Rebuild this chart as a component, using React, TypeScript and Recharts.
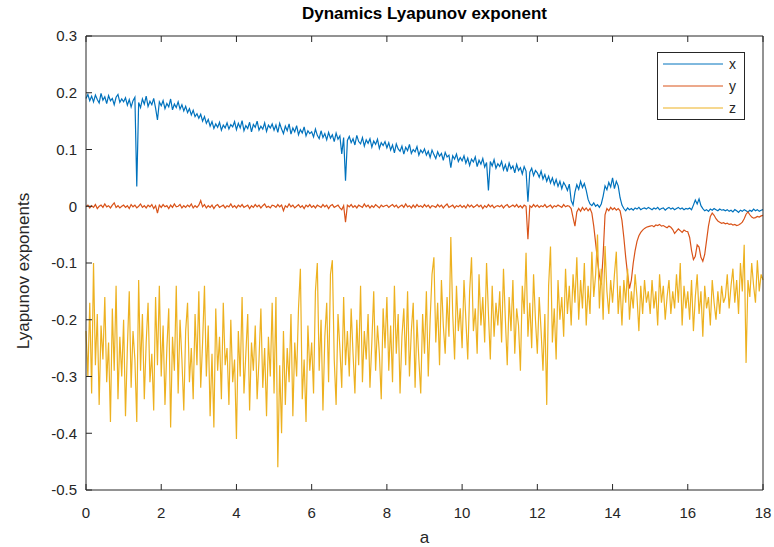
import React from 'react';
import { LineChart, Line, XAxis, YAxis, Legend } from 'recharts';

const FONT = '"Liberation Sans", Arial, Helvetica, sans-serif';
const INK = '#262626';

// parameter a sampled every 0.05 from 0 to 18
const A_STEP = 0.05;

// Lyapunov exponent for x (blue)
const LYAP_X = [
  0.190, 0.197, 0.186, 0.194, 0.184, 0.196, 0.188, 0.182, 0.199, 0.187, 0.193, 0.181, 0.195, 0.186, 0.190, 0.179, 0.192, 0.197, 0.183, 0.189,
  0.184, 0.191, 0.178, 0.188, 0.175, 0.186, 0.192, 0.035, 0.183, 0.174, 0.189, 0.180, 0.194, 0.176, 0.185, 0.179, 0.190, 0.173, 0.152, 0.184,
  0.177, 0.186, 0.172, 0.181, 0.175, 0.189, 0.170, 0.180, 0.174, 0.184, 0.171, 0.179, 0.168, 0.176, 0.165, 0.172, 0.161, 0.169, 0.158, 0.163,
  0.155, 0.162, 0.150, 0.158, 0.146, 0.153, 0.141, 0.149, 0.137, 0.145, 0.139, 0.148, 0.134, 0.143, 0.138, 0.147, 0.136, 0.144, 0.140, 0.149,
  0.135, 0.146, 0.138, 0.151, 0.133, 0.142, 0.137, 0.148, 0.131, 0.144, 0.139, 0.150, 0.134, 0.141, 0.136, 0.147, 0.132, 0.143, 0.138, 0.145,
  0.134, 0.143, 0.130, 0.146, 0.136, 0.128, 0.141, 0.133, 0.145, 0.127, 0.138, 0.131, 0.142, 0.126, 0.135, 0.129, 0.140, 0.124, 0.133, 0.128,
  0.131, 0.122, 0.136, 0.125, 0.119, 0.133, 0.121, 0.128, 0.117, 0.130, 0.120, 0.126, 0.114, 0.129, 0.118, 0.124, 0.092, 0.121, 0.045, 0.116,
  0.123, 0.112, 0.119, 0.108, 0.125, 0.114, 0.110, 0.121, 0.106, 0.117, 0.111, 0.119, 0.104, 0.115, 0.109, 0.118, 0.102, 0.112, 0.107, 0.114,
  0.103, 0.112, 0.099, 0.108, 0.094, 0.110, 0.101, 0.097, 0.106, 0.092, 0.104, 0.098, 0.109, 0.093, 0.100, 0.096, 0.105, 0.090, 0.099, 0.094,
  0.101, 0.090, 0.097, 0.086, 0.099, 0.091, 0.084, 0.096, 0.088, 0.093, 0.081, 0.095, 0.087, 0.090, 0.068, 0.089, 0.083, 0.092, 0.079, 0.086,
  0.080, 0.089, 0.076, 0.085, 0.072, 0.083, 0.078, 0.087, 0.070, 0.081, 0.074, 0.084, 0.069, 0.077, 0.028, 0.079, 0.071, 0.082, 0.067, 0.075,
  0.070, 0.079, 0.064, 0.073, 0.061, 0.076, 0.066, 0.071, 0.059, 0.074, 0.063, 0.068, 0.057, 0.070, 0.062, 0.008, 0.060, 0.067, 0.054, 0.063,
  0.059, 0.051, 0.062, 0.048, 0.056, 0.044, 0.053, 0.041, 0.050, 0.038, 0.047, 0.035, 0.044, 0.031, 0.042, 0.036, 0.028, 0.039, 0.010, 0.002,
  0.025, 0.038, 0.030, 0.044, 0.033, 0.040, 0.028, 0.012, 0.004, 0.001, 0.006, 0.000, 0.003, -0.002, 0.004, 0.018, 0.036, 0.029, 0.042, 0.034,
  0.050, 0.031, 0.044, 0.036, 0.015, 0.002, -0.004, -0.008, -0.003, -0.006, -0.004, -0.007, -0.003, -0.005, -0.002, -0.006, -0.004, -0.003, -0.005, -0.002,
  -0.004, -0.006, -0.003, -0.005, -0.002, -0.006, -0.004, -0.003, -0.007, -0.004, -0.002, -0.005, -0.003, -0.006, -0.004, -0.002, -0.005, -0.003, -0.006, -0.004,
  -0.005, -0.003, -0.006, 0.002, 0.011, 0.004, 0.013, 0.001, -0.004, -0.008, -0.006, -0.009, -0.005, -0.007, -0.004, -0.006, -0.008, -0.005, -0.007, -0.006,
  -0.008, -0.006, -0.009, -0.007, -0.010, -0.006, -0.008, -0.011, -0.007, -0.009, -0.006, -0.008, -0.010, -0.007, -0.009, -0.005, -0.008, -0.006, -0.009, -0.007,
  -0.006,
];

// Lyapunov exponent for y (orange)
const LYAP_Y = [
  -0.001, 0.002, -0.003, 0.001, -0.002, 0.003, -0.004, 0.000, 0.002, -0.002, 0.004, -0.001, 0.001, -0.003, 0.002, 0.006, -0.002, 0.001, -0.003, 0.000,
  0.002, -0.002, 0.001, -0.004, 0.003, -0.001, 0.002, -0.003, 0.000, 0.004, -0.002, 0.001, -0.003, 0.002, -0.001, 0.003, -0.004, 0.001, -0.012, 0.002,
  -0.002, 0.003, -0.001, 0.001, -0.004, 0.002, -0.002, 0.004, -0.001, 0.000, 0.003, -0.003, 0.001, -0.002, 0.002, -0.001, 0.004, -0.003, 0.001, -0.002,
  0.002, 0.010, -0.001, 0.003, -0.003, 0.001, -0.002, 0.002, -0.004, 0.001, 0.003, -0.002, 0.000, 0.002, -0.003, 0.001, -0.001, 0.004, -0.002, 0.001,
  -0.003, 0.002, -0.001, 0.003, -0.002, 0.000, 0.002, -0.004, 0.001, -0.002, 0.003, -0.001, 0.002, -0.003, 0.001, 0.004, -0.002, 0.000, -0.003, 0.002,
  0.001, -0.002, 0.003, -0.001, 0.002, -0.008, 0.001, -0.002, 0.004, -0.001, 0.002, -0.003, 0.000, 0.003, -0.002, 0.001, -0.004, 0.002, -0.001, 0.003,
  -0.002, 0.001, -0.003, 0.002, 0.000, -0.002, 0.003, -0.001, 0.002, -0.004, 0.001, 0.003, -0.002, 0.000, 0.002, -0.003, -0.006, 0.001, -0.028, 0.002,
  -0.001, 0.003, -0.002, 0.001, -0.003, 0.002, 0.000, -0.002, 0.004, -0.001, 0.002, -0.003, 0.001, -0.002, 0.003, 0.000, -0.003, 0.002, -0.001, 0.001,
  0.002, -0.002, 0.001, 0.003, -0.001, 0.002, -0.003, 0.000, 0.002, -0.002, 0.004, -0.001, 0.001, -0.003, 0.002, -0.002, 0.003, -0.001, 0.001, -0.002,
  0.003, -0.001, 0.002, -0.003, 0.001, 0.000, -0.002, 0.003, -0.001, 0.002, -0.003, 0.001, 0.004, -0.002, 0.000, 0.002, -0.003, 0.001, -0.001, 0.002,
  -0.002, 0.001, -0.003, 0.003, -0.001, 0.002, -0.002, 0.000, 0.003, -0.001, 0.002, -0.004, 0.001, -0.002, 0.003, -0.001, 0.002, -0.003, 0.000, 0.001,
  -0.001, 0.002, -0.003, 0.001, 0.003, -0.002, 0.000, 0.002, -0.001, 0.003, -0.002, 0.001, -0.003, 0.002, 0.000, -0.058, 0.001, -0.002, 0.003, -0.001,
  0.002, -0.002, 0.001, -0.001, 0.003, -0.002, 0.000, 0.002, -0.003, 0.001, -0.001, 0.002, 0.000, -0.002, 0.003, -0.001, 0.001, 0.000, -0.004, -0.020,
  -0.035, -0.010, -0.004, -0.009, -0.002, -0.007, -0.003, -0.008, -0.004, -0.012, -0.035, -0.065, -0.095, -0.122, -0.138, -0.085, -0.015, -0.004, -0.008, -0.002,
  -0.006, -0.003, -0.007, -0.004, -0.008, -0.025, -0.055, -0.090, -0.120, -0.145, -0.130, -0.100, -0.078, -0.062, -0.052, -0.046, -0.042, -0.039, -0.037, -0.036,
  -0.035, -0.034, -0.036, -0.033, -0.034, -0.032, -0.035, -0.034, -0.036, -0.038, -0.035, -0.037, -0.041, -0.048, -0.044, -0.040, -0.043, -0.046, -0.042, -0.044,
  -0.045, -0.055, -0.078, -0.094, -0.088, -0.068, -0.072, -0.090, -0.097, -0.085, -0.060, -0.035, -0.018, -0.012, -0.016, -0.022, -0.026, -0.028, -0.030, -0.029,
  -0.031, -0.030, -0.032, -0.031, -0.033, -0.032, -0.034, -0.033, -0.031, -0.028, -0.022, -0.014, -0.010, -0.015, -0.019, -0.021, -0.020, -0.018, -0.019, -0.017,
  -0.016,
];

// Lyapunov exponent for z (yellow)
const LYAP_Z = [
  -0.22, -0.30, -0.17, -0.33, -0.10, -0.28, -0.19, -0.35, -0.21, -0.27, -0.16, -0.31, -0.24, -0.38, -0.18, -0.29, -0.14, -0.34, -0.23, -0.30,
  -0.20, -0.37, -0.25, -0.15, -0.32, -0.22, -0.27, -0.38, -0.13, -0.29, -0.19, -0.34, -0.24, -0.17, -0.31, -0.26, -0.36, -0.16, -0.28, -0.14,
  -0.30, -0.21, -0.35, -0.25, -0.18, -0.39, -0.23, -0.29, -0.14, -0.33, -0.20, -0.27, -0.36, -0.22, -0.17, -0.31, -0.25, -0.34, -0.19, -0.28,
  -0.15, -0.32, -0.24, -0.14, -0.30, -0.21, -0.37, -0.26, -0.39, -0.18, -0.29, -0.23, -0.34, -0.17, -0.28, -0.25, -0.35, -0.20, -0.31, -0.27,
  -0.41, -0.22, -0.30, -0.16, -0.33, -0.26, -0.19, -0.36, -0.24, -0.29, -0.21, -0.34, -0.27, -0.18, -0.32, -0.25, -0.37, -0.23, -0.30, -0.17,
  -0.33, -0.16, -0.46, -0.28, -0.40, -0.22, -0.35, -0.25, -0.31, -0.19, -0.37, -0.24, -0.30, -0.18, -0.11, -0.34, -0.27, -0.38, -0.21, -0.29,
  -0.24, -0.33, -0.15, -0.10, -0.29, -0.20, -0.36, -0.23, -0.17, -0.31, -0.12, -0.095, -0.27, -0.35, -0.19, -0.25, -0.32, -0.16, -0.28, -0.22,
  -0.30, -0.18, -0.26, -0.33, -0.20, -0.28, -0.14, -0.31, -0.22, -0.27, -0.19, -0.32, -0.24, -0.15, -0.29, -0.21, -0.26, -0.34, -0.18, -0.25,
  -0.16, -0.29, -0.21, -0.31, -0.14, -0.26, -0.19, -0.33, -0.23, -0.18, -0.28, -0.15, -0.30, -0.22, -0.17, -0.32, -0.20, -0.27, -0.33, -0.19,
  -0.26, -0.15, -0.30, -0.20, -0.12, -0.09, -0.24, -0.17, -0.28, -0.13, -0.21, -0.26, -0.16, -0.23, -0.054, -0.19, -0.27, -0.14, -0.22, -0.18,
  -0.25, -0.13, -0.20, -0.27, -0.15, -0.09, -0.22, -0.18, -0.26, -0.12, -0.21, -0.16, -0.24, -0.10, -0.19, -0.27, -0.14, -0.23, -0.17, -0.21,
  -0.15, -0.24, -0.11, -0.20, -0.28, -0.16, -0.22, -0.13, -0.26, -0.18, -0.21, -0.29, -0.14, -0.19, -0.082, -0.23, -0.17, -0.25, -0.12, -0.20,
  -0.26, -0.16, -0.22, -0.29, -0.19, -0.35, -0.14, -0.071, -0.24, -0.18, -0.27, -0.13, -0.20, -0.16, -0.23, -0.11, -0.19, -0.14, -0.21, -0.12,
  -0.17, -0.09, -0.20, -0.13, -0.18, -0.10, -0.21, -0.14, -0.19, -0.08, -0.16, -0.12, -0.05, -0.18, -0.11, -0.20, -0.07, -0.15, -0.19, -0.13,
  -0.17, -0.12, -0.08, -0.19, -0.14, -0.21, -0.13, -0.17, -0.11, -0.20, -0.15, -0.18, -0.12, -0.16, -0.22, -0.14, -0.19, -0.13, -0.17, -0.15,
  -0.19, -0.13, -0.18, -0.15, -0.21, -0.12, -0.17, -0.14, -0.20, -0.16, -0.13, -0.19, -0.15, -0.18, -0.12, -0.17, -0.10, -0.21, -0.14, -0.18,
  -0.15, -0.20, -0.13, -0.22, -0.16, -0.12, -0.19, -0.15, -0.23, -0.14, -0.18, -0.16, -0.21, -0.13, -0.17, -0.20, -0.15, -0.19, -0.14, -0.17,
  -0.16, -0.12, -0.18, -0.14, -0.11, -0.17, -0.13, -0.19, -0.10, -0.15, -0.068, -0.276, -0.13, -0.16, -0.10, -0.14, -0.17, -0.095, -0.15, -0.12,
  -0.13,
];

const X_TICKS = [0, 2, 4, 6, 8, 10, 12, 14, 16, 18];
const Y_TICKS = [-0.5, -0.4, -0.3, -0.2, -0.1, 0, 0.1, 0.2, 0.3];

const SERIES = [
  { key: 'x', name: 'x', color: '#0072BD' },
  { key: 'y', name: 'y', color: '#D95319' },
  { key: 'z', name: 'z', color: '#EDB120' },
];

const TITLE = 'Dynamics Lyapunov exponent';
const X_LABEL = 'a';
const Y_LABEL = 'Lyapunov exponents';

const data = LYAP_X.map((v, i) => ({
  a: Number((i * A_STEP).toFixed(2)),
  x: v,
  y: LYAP_Y[i],
  z: LYAP_Z[i],
}));

const tickStyle = { fill: INK, fontSize: 15, fontFamily: FONT };
const emptyTick = () => <g />;

const LegendBox = () => (
  <div
    style={{
      border: `1px solid ${INK}`,
      background: '#fff',
      width: 86,
      fontFamily: FONT,
      fontSize: 14,
      color: INK,
    }}
  >
    {SERIES.map((s) => (
      <div key={s.key} style={{ display: 'flex', alignItems: 'center', height: 22 }}>
        <svg width={66} height={10} style={{ display: 'block' }}>
          <line x1={5} x2={65} y1={5} y2={5} stroke={s.color} strokeWidth={1} />
        </svg>
        <span style={{ marginLeft: 5, lineHeight: '14px' }}>{s.name}</span>
      </div>
    ))}
  </div>
);

const YLabel = (props: any) => {
  const vb = props.viewBox || {};
  const cx = vb.x + 23;
  const cy = vb.y + vb.height / 2 + 8;
  return (
    <text
      x={cx}
      y={cy}
      transform={`rotate(-90, ${cx}, ${cy})`}
      textAnchor="middle"
      dominantBaseline="central"
      fill={INK}
      fontSize={17}
      fontFamily={FONT}
    >
      {Y_LABEL}
    </text>
  );
};

export default function App() {
  return (
    <div style={{ position: 'absolute', left: 0, top: 0, background: '#fff' }}>
      <LineChart
        width={774}
        height={547}
        data={data}
        margin={{ top: 35, right: 10, bottom: 0, left: 0 }}
      >
        <XAxis
          dataKey="a"
          type="number"
          domain={[0, 18]}
          ticks={X_TICKS}
          height={57}
          stroke={INK}
          tickSize={-6}
          tickMargin={23}
          tick={tickStyle}
          label={{
            value: X_LABEL,
            position: 'insideBottom',
            offset: 4,
            fill: INK,
            fontSize: 17,
            fontFamily: FONT,
          }}
        />
        <XAxis
          xAxisId="top"
          orientation="top"
          type="number"
          dataKey="a"
          domain={[0, 18]}
          ticks={X_TICKS}
          height={1}
          stroke={INK}
          tickSize={-6}
          tick={emptyTick}
          label={{
            value: TITLE,
            position: 'top',
            offset: 16,
            fill: '#000',
            fontSize: 17,
            fontWeight: 'bold',
            fontFamily: FONT,
          }}
        />
        <YAxis
          type="number"
          domain={[-0.5, 0.3]}
          ticks={Y_TICKS}
          width={86}
          stroke={INK}
          tickSize={-6}
          tickMargin={15}
          tick={tickStyle}
          label={{ content: YLabel }}
        />
        <YAxis
          yAxisId="right"
          orientation="right"
          type="number"
          domain={[-0.5, 0.3]}
          ticks={Y_TICKS}
          width={1}
          stroke={INK}
          tickSize={-6}
          tick={emptyTick}
        />
        <Legend
          content={LegendBox}
          layout="horizontal"
          verticalAlign="middle"
          align="center"
          wrapperStyle={{ left: 657, top: 52, width: 88, height: 68 }}
        />
        {SERIES.map((s) => (
          <Line
            key={s.key}
            dataKey={s.key}
            name={s.name}
            stroke={s.color}
            strokeWidth={1.2}
            dot={false}
            activeDot={false}
            isAnimationActive={false}
          />
        ))}
      </LineChart>
    </div>
  );
}
